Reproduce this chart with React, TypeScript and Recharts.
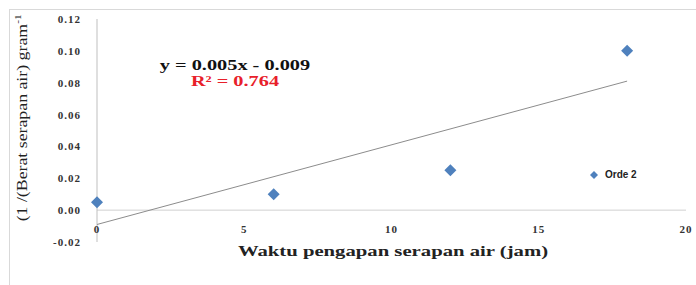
import { Legend, ReferenceLine, Scatter, ScatterChart, XAxis, YAxis } from 'recharts';

const hours = [0, 6, 12, 18];
const orde2 = [0.005, 0.01, 0.025, 0.1];
const xTicks = [0, 5, 10, 15, 20];
const yTicks = [-0.02, 0, 0.02, 0.04, 0.06, 0.08, 0.1, 0.12];
const trendSlope = 0.005;
const trendIntercept = -0.009;
const trendFrom = [0, 18];

const points = hours.map((x, i) => ({ x, y: orde2[i] }));
const trend = trendFrom.map((x) => ({ x, y: trendSlope * x + trendIntercept }));

const serif = '"Liberation Serif", "Times New Roman", serif';
const blue = '#4F81BD';

function Diamond(props: any) {
  const { cx, cy } = props;
  return <polygon points={`${cx},${cy - 6} ${cx + 6},${cy} ${cx},${cy + 6} ${cx - 6},${cy}`} fill={blue} />;
}

function YTick({ x, y, payload }: any) {
  return (
    <text x={x - 16} y={y} dy={4} textAnchor="end" fontFamily={serif} fontWeight="bold" fontSize={11} fill="#333" letterSpacing={1}>
      {payload.value.toFixed(2)}
    </text>
  );
}

function XTick({ x, y, payload }: any) {
  return (
    <text x={x} y={y - 9} textAnchor="middle" fontFamily={serif} fontWeight="bold" fontSize={11} fill="#333" letterSpacing={1}>
      {payload.value}
    </text>
  );
}

function LegendBox() {
  return (
    <div style={{ display: 'flex', alignItems: 'center', fontFamily: '"Liberation Sans", Arial, sans-serif', fontWeight: 'bold', fontSize: 10, color: '#222' }}>
      <svg width={10} height={10} style={{ marginRight: 6 }}>
        <polygon points="5,1 9,5 5,9 1,5" fill={blue} />
      </svg>
      Orde 2
    </div>
  );
}

export default function App() {
  return (
    <div style={{ position: 'fixed', left: 0, top: 0, width: 696, height: 285, overflow: 'hidden', background: '#fff' }}>
      <div style={{ position: 'absolute', left: 9, top: 9, width: 700, height: 300, border: '1px solid #d9d9d9' }} />
      <ScatterChart width={696} height={285} margin={{ top: 19, right: 10, bottom: 0, left: 0 }}>
        <XAxis
          type="number"
          dataKey="x"
          domain={[0, 20]}
          ticks={xTicks}
          axisLine={false}
          tickLine={false}
          tickSize={0}
          tickMargin={0}
          height={43}
          tick={<XTick />}
        />
        <YAxis
          type="number"
          dataKey="y"
          domain={[-0.02, 0.12]}
          ticks={yTicks}
          width={97}
          axisLine={{ stroke: '#bfbfbf' }}
          tickLine={false}
          tickSize={0}
          tickMargin={0}
          tick={<YTick />}
        />
        <ReferenceLine y={0} stroke="#d0d0d0" />
        <Scatter
          data={trend}
          line={{ stroke: '#8c8c8c', strokeWidth: 1 }}
          shape={() => <g />}
          legendType="none"
          isAnimationActive={false}
        />
        <Scatter name="Orde 2" data={points} shape={<Diamond />} isAnimationActive={false} />
        <Legend
          content={<LegendBox />}
          layout="horizontal"
          align="center"
          verticalAlign="middle"
          wrapperStyle={{ left: 589, top: 169, width: 80 }}
        />
      </ScatterChart>
      <div
        style={{
          position: 'absolute', left: 22 - 110, top: 118 - 9, width: 220, textAlign: 'center',
          transform: 'rotate(-90deg) scaleX(1.27)', fontFamily: serif, fontSize: 14, color: '#222', whiteSpace: 'nowrap',
        }}
      >
        (1 /(Berat serapan air) gram<sup style={{ fontSize: 9 }}>-1</sup>
      </div>
      <div
        style={{
          position: 'absolute', left: 393 - 200, top: 243, width: 400, textAlign: 'center',
          fontFamily: serif, fontWeight: 'bold', fontSize: 15, color: '#222', transform: 'scaleX(1.38)', whiteSpace: 'nowrap',
        }}
      >
        Waktu pengapan serapan air (jam)
      </div>
      <div
        style={{
          position: 'absolute', left: 235 - 100, top: 58, width: 200, textAlign: 'center',
          fontFamily: serif, fontWeight: 'bold', fontSize: 14, color: '#111', transform: 'scaleX(1.45)', whiteSpace: 'nowrap',
        }}
      >
        y = 0.005x - 0.009
      </div>
      <div
        style={{
          position: 'absolute', left: 235 - 100, top: 74, width: 200, textAlign: 'center',
          fontFamily: serif, fontWeight: 'bold', fontSize: 14, color: '#e8202a', transform: 'scaleX(1.45)', whiteSpace: 'nowrap',
        }}
      >
        R² = 0.764
      </div>
    </div>
  );
}
